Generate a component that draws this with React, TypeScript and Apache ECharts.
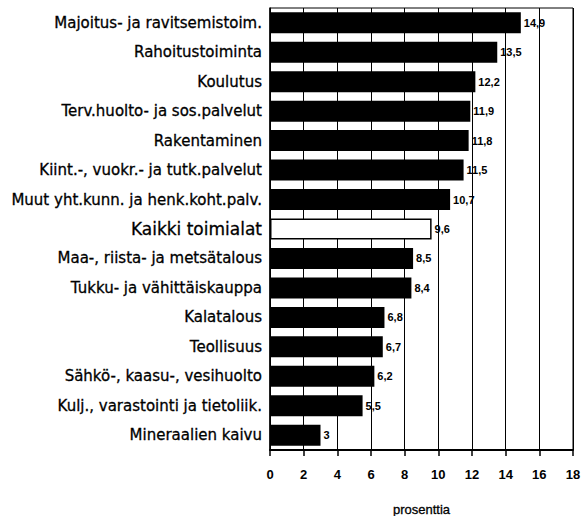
import React, { useEffect, useRef } from "react";
import * as echarts from "echarts";

const categories = [
  "Majoitus- ja ravitsemistoim.",
  "Rahoitustoiminta",
  "Koulutus",
  "Terv.huolto- ja sos.palvelut",
  "Rakentaminen",
  "Kiint.-, vuokr.- ja tutk.palvelut",
  "Muut yht.kunn. ja henk.koht.palv.",
  "Kaikki toimialat",
  "Maa-, riista- ja metsätalous",
  "Tukku- ja vähittäiskauppa",
  "Kalatalous",
  "Teollisuus",
  "Sähkö-, kaasu-, vesihuolto",
  "Kulj., varastointi ja tietoliik.",
  "Mineraalien kaivu",
];
const values = [14.9, 13.5, 12.2, 11.9, 11.8, 11.5, 10.7, 9.6, 8.5, 8.4, 6.8, 6.7, 6.2, 5.5, 3];
const highlight = "Kaikki toimialat";
const xTicks = { min: 0, max: 18, interval: 2 };
const axisTitle = "prosenttia";

const FONT = "'Liberation Sans', Arial, Helvetica, sans-serif";
const LABEL_FONT = "'DejaVu Sans', sans-serif";

export default function App() {
  const ref = useRef<HTMLDivElement>(null);
  useEffect(() => {
    const chart = echarts.init(ref.current!, null, { renderer: "svg" });
    chart.setOption({
      animation: false,
      backgroundColor: "#fff",
      grid: {
        left: 270,
        right: 13,
        top: 8,
        bottom: 66,
        outerBoundsMode: "none",
        containLabel: false,
        show: true,
        borderColor: "#000",
        borderWidth: 1,
        backgroundColor: "transparent",
      },
      xAxis: {
        type: "value",
        min: xTicks.min,
        max: xTicks.max,
        interval: xTicks.interval,
        name: axisTitle,
        nameLocation: "middle",
        nameGap: 53,
        nameTextStyle: {
          color: "#000",
          fontSize: 13,
          fontFamily: FONT,
          textBorderColor: "#000",
          textBorderWidth: 0.3,
        },
        axisLine: { show: true, lineStyle: { color: "#000", width: 2 } },
        axisTick: { show: true, length: 6, lineStyle: { color: "#000", width: 1.5 } },
        axisLabel: {
          color: "#000",
          fontSize: 13,
          fontWeight: "bold",
          fontFamily: FONT,
          margin: 18,
        },
        splitLine: { show: true, lineStyle: { color: "#000", width: 1 } },
      },
      yAxis: {
        type: "category",
        data: categories,
        inverse: true,
        axisLine: { show: true, lineStyle: { color: "#000", width: 1.5 } },
        axisTick: { show: false },
        axisLabel: {
          margin: 8,
          formatter: (v: string) => (v === highlight ? `{big|${v}}` : `{n|${v}}`),
          rich: {
            n: {
              color: "#000",
              fontSize: 15,
              fontFamily: LABEL_FONT,
              textBorderColor: "#000",
              textBorderWidth: 0.3,
            },
            big: {
              color: "#000",
              fontSize: 17,
              fontFamily: LABEL_FONT,
              textBorderColor: "#000",
              textBorderWidth: 0.3,
            },
          },
        },
      },
      series: [
        {
          type: "bar",
          barWidth: 21,
          data: values.map((v, i) =>
            categories[i] === highlight
              ? {
                  value: v,
                  itemStyle: { color: "#fff", borderColor: "#000", borderWidth: 1.5 },
                }
              : { value: v, itemStyle: { color: "#000" } }
          ),
          label: {
            show: true,
            position: "right",
            distance: 3,
            color: "#000",
            fontSize: 11,
            fontWeight: "bold",
            fontFamily: FONT,
            formatter: (p: any) => String(p.value).replace(".", ","),
          },
        },
      ],
    });
    return () => chart.dispose();
  }, []);
  return (
    <div
      ref={ref}
      style={{ position: "absolute", left: 0, top: 0, width: 586, height: 516 }}
    />
  );
}
